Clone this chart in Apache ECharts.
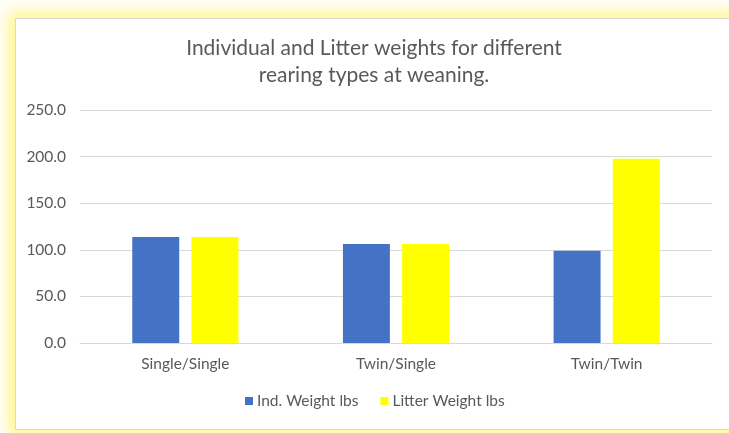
<!DOCTYPE html>
<html>
<head>
<meta charset="utf-8">
<script src="https://cdn.jsdelivr.net/npm/echarts@6/dist/echarts.min.js"></script>
<style>
  html, body { margin: 0; padding: 0; background: #ffffff; }
  #wrap { position: relative; width: 729px; height: 433px; overflow: hidden; background: #fffef6; }
  #frame { position: absolute; left: 15px; top: 18px; width: 730px; height: 410px;
           background: #ffffff; border: 1px solid #d9d9d9;
           box-shadow: 0 0 12px 6px rgba(255, 242, 60, 0.55); }
  #chart { position: absolute; left: 0; top: 0; width: 729px; height: 433px; }
</style>
</head>
<body>
<div id="wrap">
  <div id="frame"></div>
  <div id="chart"></div>
</div>
<script>
const categories = ['Single/Single', 'Twin/Single', 'Twin/Twin'];
const indWeight = [113.6, 106.3, 98.9];
const litterWeight = [113.6, 106.3, 197.8];
const seriesNames = ['Ind. Weight lbs', 'Litter Weight lbs'];
const titleText = 'Individual and Litter weights for different\nrearing types at weaning.';

const FONT = 'Lato';
const chart = echarts.init(document.getElementById('chart'), null, { renderer: 'canvas' });
chart.setOption({
  backgroundColor: 'transparent',
  animation: false,
  title: {
    text: titleText,
    left: 369,
    top: 30,
    textAlign: 'center',
    textStyle: { fontFamily: FONT, fontSize: 21, fontWeight: 'normal', color: '#595959', lineHeight: 27 }
  },
  legend: {
    bottom: 19,
    left: 240,
    itemWidth: 8, itemHeight: 8, itemGap: 22,
    icon: 'rect',
    textStyle: { fontFamily: FONT, fontSize: 15.5, color: '#595959', padding: [0, 0, 0, -1] },
    data: seriesNames
  },
  grid: { left: 80, right: 17, top: 110, bottom: 90, containLabel: false },
  xAxis: {
    type: 'category',
    data: categories,
    axisLine: { lineStyle: { color: '#d9d9d9', width: 1 } },
    axisTick: { show: false },
    axisLabel: { fontFamily: FONT, fontSize: 15.5, color: '#595959', margin: 13 }
  },
  yAxis: {
    type: 'value',
    min: 0, max: 250, interval: 50,
    axisLine: { show: false },
    axisTick: { show: false },
    splitLine: { lineStyle: { color: '#d9d9d9', width: 1 } },
    axisLabel: { fontFamily: FONT, fontSize: 15.5, color: '#595959', margin: 14,
                 formatter: v => v.toFixed(1) }
  },
  series: [
    { name: seriesNames[0], type: 'bar', data: indWeight, barWidth: '22.3%', barGap: '26%',
      itemStyle: { color: '#4472C4' } },
    { name: seriesNames[1], type: 'bar', data: litterWeight, barWidth: '22.3%',
      itemStyle: { color: '#FFFF00' } }
  ]
});
</script>
</body>
</html>
